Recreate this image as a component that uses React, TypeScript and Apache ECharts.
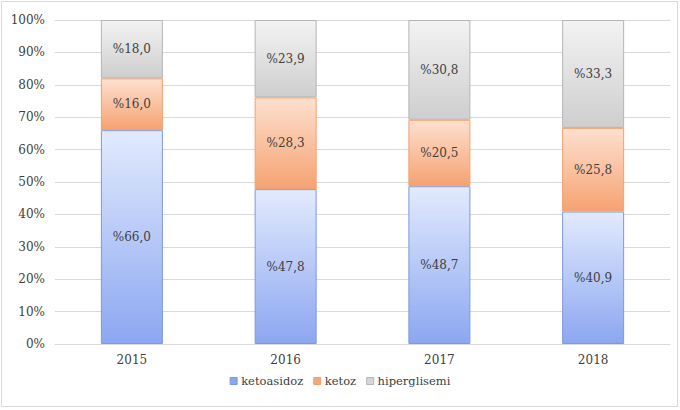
import React, { useEffect, useRef } from "react";
import * as echarts from "echarts";

const years = ["2015", "2016", "2017", "2018"];
const ketoasidoz = [66.0, 47.8, 48.7, 40.9];
const ketoz = [16.0, 28.3, 20.5, 25.8];
const hiperglisemi = [18.0, 23.9, 30.8, 33.3];
const yTicks = [0, 10, 20, 30, 40, 50, 60, 70, 80, 90, 100];

const FONT = "DejaVu Serif";
const TEXT = "#404040";

const grad = (top: string, bottom: string) =>
  new echarts.graphic.LinearGradient(0, 0, 0, 1, [
    { offset: 0, color: top },
    { offset: 1, color: bottom },
  ]);

const fmt = (v: number) => "%" + v.toFixed(1).replace(".", ",");

export default function App() {
  const ref = useRef<HTMLDivElement>(null);

  useEffect(() => {
    document.body.style.margin = "0";
    if (!ref.current) return;
    const chart = echarts.init(ref.current, undefined, { renderer: "svg" });

    const mkSeries = (
      name: string,
      data: number[],
      top: string,
      bottom: string,
      border: string,
      legendColor: string
    ) => ({
      name,
      type: "bar",
      stack: "total",
      barWidth: 62,
      data,
      itemStyle: {
        color: grad(top, bottom),
        borderColor: border,
        borderWidth: 1,
      },
      label: {
        show: true,
        position: "inside",
        formatter: (p: any) => fmt(p.value),
        fontFamily: FONT,
        fontSize: 12,
        color: TEXT,
      },
      emphasis: { disabled: true },
      legendColor,
    });

    const series = [
      mkSeries("ketoasidoz", ketoasidoz, "#e2eafd", "#8ca7f1", "#7d98dc", "#8aa6ee"),
      mkSeries("ketoz", ketoz, "#fde0cf", "#f6a272", "#f0a070", "#f6a677"),
      mkSeries("hiperglisemi", hiperglisemi, "#f3f3f3", "#cecece", "#b5b5b5", "#d6d6d6"),
    ];

    chart.setOption({
      animation: false,
      backgroundColor: "#ffffff",
      textStyle: { fontFamily: FONT },
      graphic: [
        {
          type: "rect",
          shape: { x: 1.5, y: 1.5, width: 676, height: 405 },
          style: { fill: "none", stroke: "#d9d9d9", lineWidth: 1 },
          silent: true,
        },
      ],
      grid: { left: 55, right: 10, top: 20, bottom: 66, containLabel: false },
      legend: {
        bottom: 18,
        left: "center",
        itemWidth: 7,
        itemHeight: 7,
        itemGap: 10,
        icon: "rect",
        textStyle: { fontFamily: FONT, fontSize: 11.5, color: TEXT, padding: [0, 0, 0, -1] },
        data: series.map((s) => ({
          name: s.name,
          itemStyle: { color: s.legendColor, borderColor: s.itemStyle.borderColor, borderWidth: 1 },
        })),
      },
      xAxis: {
        type: "category",
        data: years,
        axisLine: { show: true, lineStyle: { color: "#d9d9d9" } },
        axisTick: { show: false },
        axisLabel: { fontFamily: FONT, fontSize: 12, color: TEXT, margin: 10 },
      },
      yAxis: {
        type: "value",
        min: yTicks[0],
        max: yTicks[yTicks.length - 1],
        interval: 10,
        axisLine: { show: false },
        axisTick: { show: false },
        splitLine: { lineStyle: { color: "#d9d9d9" } },
        axisLabel: {
          fontFamily: FONT,
          fontSize: 12,
          color: TEXT,
          margin: 10,
          formatter: (v: number) => v + "%",
        },
      },
      series: series.map(({ legendColor, ...s }) => s),
    } as any);

    return () => chart.dispose();
  }, []);

  return <div ref={ref} style={{ width: 680, height: 410 }} />;
}
